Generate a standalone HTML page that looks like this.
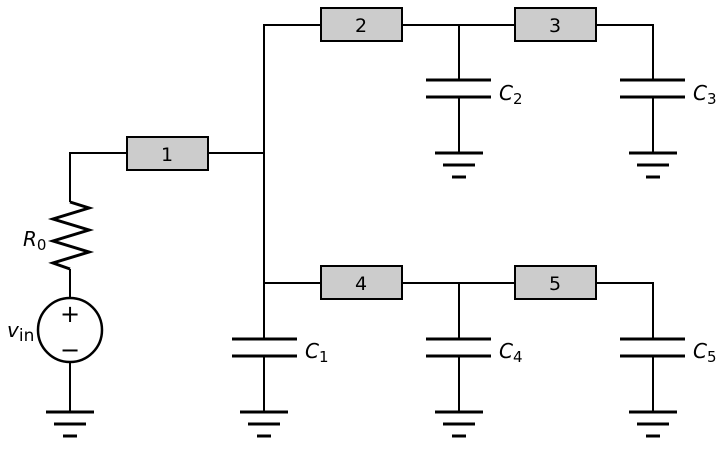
<!DOCTYPE html>
<html><head><meta charset="utf-8"><style>body{margin:0;background:#fff}</style></head><body>
<svg width="720" height="446" xmlns="http://www.w3.org/2000/svg" font-family="DejaVu Sans, Liberation Sans, sans-serif">
<g stroke="#000" stroke-width="2" fill="none">
<polyline points="127,153 70,153 70,202"/>
<polyline points="70,202 89,208 53,219 89,230 53,241 89,252 53,263 70,269" stroke-width="3" stroke-linejoin="miter"/>
<line x1="70" y1="269" x2="70" y2="298"/>
<circle cx="70" cy="330" r="32" stroke-width="2.5"/>
<line x1="70" y1="362" x2="70" y2="412"/>
<line x1="208" y1="153" x2="264" y2="153"/>
<polyline points="321,25 264,25 264,339"/>
<line x1="264" y1="356" x2="264" y2="412"/>
<line x1="264" y1="283" x2="321" y2="283"/>
<line x1="402" y1="25" x2="515" y2="25"/>
<line x1="459" y1="25" x2="459" y2="80"/>
<line x1="459" y1="97" x2="459" y2="153"/>
<polyline points="596,25 653,25 653,80"/>
<line x1="653" y1="97" x2="653" y2="153"/>
<line x1="402" y1="283" x2="515" y2="283"/>
<line x1="459" y1="283" x2="459" y2="339"/>
<line x1="459" y1="356" x2="459" y2="412"/>
<polyline points="596,283 653,283 653,339"/>
<line x1="653" y1="356" x2="653" y2="412"/>
</g>
<g stroke="#000" stroke-width="3">
<line x1="232" y1="339" x2="297" y2="339"/><line x1="232" y1="356" x2="297" y2="356"/>
<line x1="426" y1="80" x2="491" y2="80"/><line x1="426" y1="97" x2="491" y2="97"/>
<line x1="620" y1="80" x2="685" y2="80"/><line x1="620" y1="97" x2="685" y2="97"/>
<line x1="426" y1="339" x2="491" y2="339"/><line x1="426" y1="356" x2="491" y2="356"/>
<line x1="620" y1="339" x2="685" y2="339"/><line x1="620" y1="356" x2="685" y2="356"/>
</g>
<defs>
<g id="gnd" stroke="#000" stroke-width="3">
<line x1="-24" y1="0" x2="24" y2="0"/>
<line x1="-16" y1="12" x2="16" y2="12"/>
<line x1="-7" y1="24" x2="7" y2="24"/>
</g>
</defs>
<use href="#gnd" x="70" y="412"/>
<use href="#gnd" x="264" y="412"/>
<use href="#gnd" x="459" y="412"/>
<use href="#gnd" x="653" y="412"/>
<use href="#gnd" x="459" y="153"/>
<use href="#gnd" x="653" y="153"/>
<g fill="#cccccc" stroke="#000" stroke-width="2">
<rect x="127" y="137" width="81" height="33"/>
<rect x="321" y="8" width="81" height="33"/>
<rect x="515" y="8" width="81" height="33"/>
<rect x="321" y="266" width="81" height="33"/>
<rect x="515" y="266" width="81" height="33"/>
</g>
<g font-size="19" text-anchor="middle" fill="#000">
<text x="167" y="161">1</text>
<text x="361" y="32">2</text>
<text x="555" y="32">3</text>
<text x="361" y="290">4</text>
<text x="555" y="290">5</text>
<text x="70" y="322" font-size="24">+</text>
<text x="70" y="358" font-size="24">−</text>
</g>
<g font-size="20" fill="#000">
<text x="23" y="246" font-style="italic">R<tspan font-style="normal" font-size="15" dy="4">0</tspan></text>
<text x="7" y="337" font-style="italic">v<tspan font-style="normal" font-size="17" dy="4">in</tspan></text>
<text x="305" y="358" font-style="italic">C<tspan font-style="normal" font-size="15" dy="4">1</tspan></text>
<text x="499" y="100" font-style="italic">C<tspan font-style="normal" font-size="15" dy="4">2</tspan></text>
<text x="693" y="100" font-style="italic">C<tspan font-style="normal" font-size="15" dy="4">3</tspan></text>
<text x="499" y="358" font-style="italic">C<tspan font-style="normal" font-size="15" dy="4">4</tspan></text>
<text x="693" y="358" font-style="italic">C<tspan font-style="normal" font-size="15" dy="4">5</tspan></text>
</g>
</svg>
</body></html>
